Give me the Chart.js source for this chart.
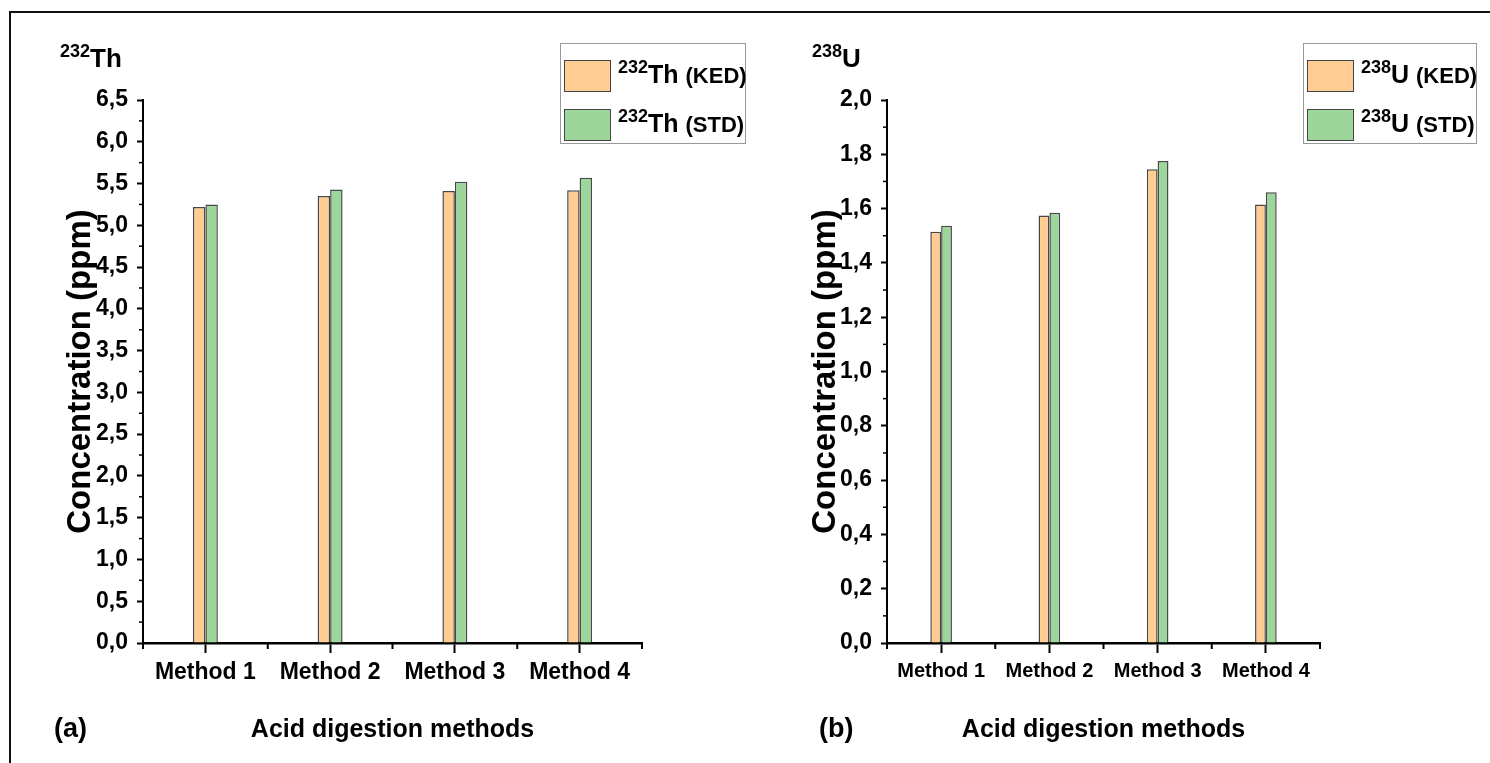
<!DOCTYPE html>
<html><head><meta charset="utf-8">
<script src="https://cdn.jsdelivr.net/npm/chart.js@4.4.1/dist/chart.umd.min.js"></script>
<style>
html,body{margin:0;padding:0;background:#fff;width:1490px;height:763px;overflow:hidden;position:relative;font-family:'Liberation Sans',Arial,sans-serif;font-weight:bold;color:#000}
#frame{position:absolute;left:9px;top:11px;width:1600px;height:900px;border-top:2px solid #111;border-left:2px solid #111;box-sizing:border-box}
canvas{position:absolute;top:0}
#cA{left:0}
#cB{left:745px}
.hdr{position:absolute;font-size:26px;line-height:28px;white-space:nowrap}
.hdr sup,.lt sup{font-size:18px;line-height:0;vertical-align:0;position:relative;top:-10px}
.lbl{position:absolute;font-size:27px;line-height:28px}
.legend{position:absolute;border:1px solid #999;background:#fff;box-sizing:border-box}
.sw{position:absolute;left:3px;width:47px;height:32px;border:1.5px solid #444;box-sizing:border-box}
.lt{position:absolute;font-size:25px;line-height:28px;white-space:nowrap}
.lt small{font-size:22px}
</style></head>
<body>
<div id="frame"></div>
<canvas id="cA" width="745" height="763"></canvas>
<canvas id="cB" width="745" height="763"></canvas>
<div class="hdr" style="left:60px;top:44px"><sup>232</sup>Th</div>
<div class="hdr" style="left:812px;top:44px"><sup>238</sup>U</div>
<div class="lbl" style="left:54px;top:714px">(a)</div>
<div class="lbl" style="left:819px;top:714px">(b)</div>
<div class="legend" id="legA" style="left:560px;top:43px;width:186px;height:101px"></div>
<div class="legend" id="legB" style="left:1303px;top:43px;width:174px;height:101px"></div>
<script>
const categories = ['Method 1', 'Method 2', 'Method 3', 'Method 4'];
const seriesNames = ['KED', 'STD'];
const thKED = [5.22, 5.35, 5.41, 5.42];
const thSTD = [5.25, 5.43, 5.52, 5.57];
const uKED = [1.515, 1.575, 1.745, 1.615];
const uSTD = [1.537, 1.585, 1.775, 1.66];
const thYRange = [0, 6.5, 0.5];
const uYRange = [0, 2.0, 0.2];
const xTitle = 'Acid digestion methods';
const yTitle = 'Concentration (ppm)';
const colors = ['#FFCD91', '#9DD69B'];

const FONT = "'Liberation Sans',Arial,sans-serif";

const minorTicks = {
  id: 'minorTicks',
  afterDraw(chart) {
    const ctx = chart.ctx, x = chart.scales.x, y = chart.scales.y;
    ctx.save();
    ctx.strokeStyle = '#000';
    ctx.lineWidth = 1.5;
    const t = y.ticks;
    for (let i = 0; i < t.length - 1; i++) {
      const v = (t[i].value + t[i + 1].value) / 2;
      const py = y.getPixelForValue(v);
      ctx.beginPath(); ctx.moveTo(y.right, py); ctx.lineTo(y.right - 4, py); ctx.stroke();
    }
    const n = x.ticks.length;
    const pts = [x.left];
    for (let i = 0; i < n - 1; i++) pts.push((x.getPixelForValue(i) + x.getPixelForValue(i + 1)) / 2);
    pts.push(x.right);
    ctx.lineWidth = 2;
    pts.forEach(px => { ctx.beginPath(); ctx.moveTo(px, x.top); ctx.lineTo(px, x.top + 6); ctx.stroke(); });
    ctx.restore();
  }
};

function makeChart(id, iso, ked, std, range, padRight, yWidth, xTickSize) {
  new Chart(document.getElementById(id), {
    type: 'bar',
    data: {
      labels: categories,
      datasets: [
        { label: iso + ' (' + seriesNames[0] + ')', data: ked, backgroundColor: colors[0], borderColor: 'rgba(40,40,40,0.85)', borderWidth: 1.5 },
        { label: iso + ' (' + seriesNames[1] + ')', data: std, backgroundColor: colors[1], borderColor: 'rgba(40,40,40,0.85)', borderWidth: 1.5 }
      ]
    },
    options: {
      responsive: false,
      animation: false,
      categoryPercentage: 0.2,
      barPercentage: 1.0,
      layout: { padding: { left: 0, top: 100, right: padRight, bottom: 0 } },
      plugins: { legend: { display: false }, tooltip: { enabled: false } },
      scales: {
        x: {
          afterFit(s) { s.height = 120; },
          grid: { offset: false, drawOnChartArea: false, drawTicks: true, tickLength: 10, tickColor: '#000', tickWidth: 2 },
          border: { color: '#000', width: 2.5 },
          ticks: { color: '#000', padding: 6, maxRotation: 0, autoSkip: false, font: { family: FONT, weight: 'bold', size: xTickSize } },
          title: { display: true, text: xTitle, color: '#000', padding: { top: 0, bottom: 18 }, font: { family: FONT, weight: 'bold', size: 25 } }
        },
        y: {
          min: range[0], max: range[1],
          afterFit(s) { s.width = yWidth; },
          grid: { drawOnChartArea: false, drawTicks: true, tickLength: 6, tickColor: '#000', tickWidth: 2 },
          border: { color: '#000', width: 2 },
          ticks: { stepSize: range[2], color: '#000', padding: 9, font: { family: FONT, weight: 'bold', size: 23 },
                   callback: v => Number(v).toFixed(1).replace('.', ',') },
          title: { display: true, text: yTitle, color: '#000', padding: { top: 61, bottom: 0 }, font: { family: FONT, weight: 'bold', size: 33 } }
        }
      }
    },
    plugins: [minorTicks]
  });
}

makeChart('cA', '232Th', thKED, thSTD, thYRange, 745 - 642, 143, 23);
makeChart('cB', '238U', uKED, uSTD, uYRange, 745 - 575, 142, 20);

function legend(el, num, sym) {
  const tops = [16, 65];
  let html = '';
  seriesNames.forEach((n, i) => {
    html += '<div class="sw" style="top:' + tops[i] + 'px;background:' + colors[i] + '"></div>';
    html += '<div class="lt" style="left:57px;top:' + tops[i] + 'px"><sup>' + num + '</sup>' + sym + ' <small>(' + n + ')</small></div>';
  });
  document.getElementById(el).innerHTML = html;
}
legend('legA', '232', 'Th');
legend('legB', '238', 'U');
</script>
</body></html>
